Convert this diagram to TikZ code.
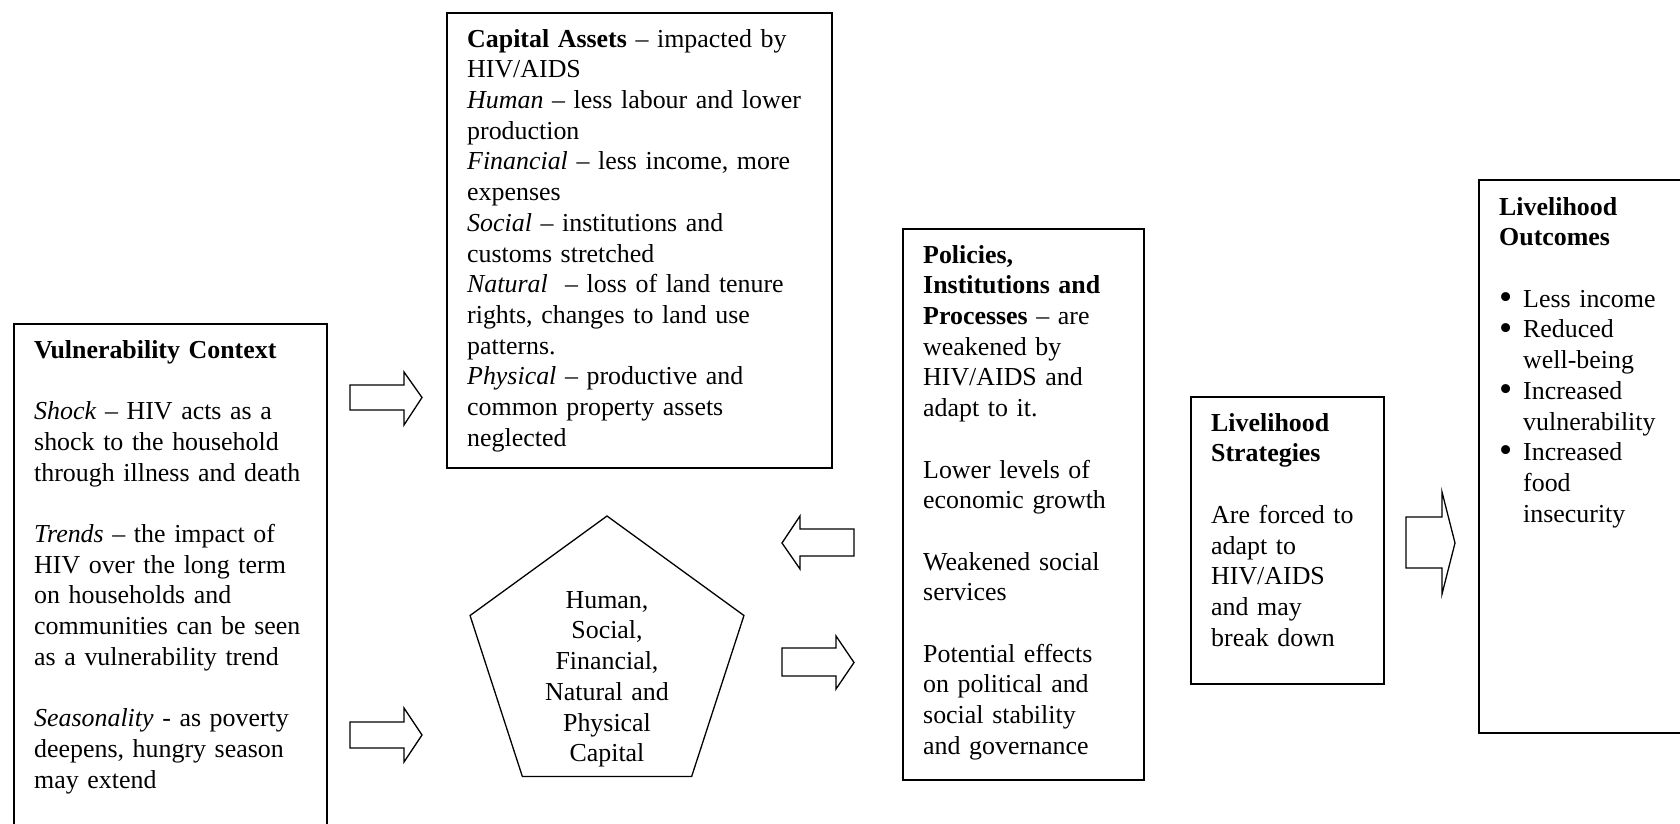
\documentclass[tikz,border=0pt]{standalone}
\usepackage{fontspec}
\setmainfont{Liberation Serif}
\usetikzlibrary{shapes.geometric}
\tikzset{
  frame/.style={draw, line width=1.6pt, inner sep=0pt, anchor=north west},
  txt/.style={inner sep=0pt, anchor=north west, align=left, text width=#1,
              font=\fontsize{25.9}{30.7}\selectfont},
  blockarrow/.style={draw, line width=1.3pt, line join=miter},
}
\newcommand{\bul}{\makebox[24pt][l]{\raisebox{-2.2pt}{\scalebox{1.45}{\textbullet}}}}
\newcommand{\ind}{\hspace*{24pt}}
\begin{document}
\begin{tikzpicture}[x=1pt,y=-1pt]
\useasboundingbox (0,0) rectangle (1680,823);
\clip (0,0) rectangle (1680,823);

% Vulnerability Context
\node[frame, minimum width=313pt, minimum height=560pt] (vc) at (13,323) {};
\node[txt=300pt] (vct) at (34,336.5) {\strut\textbf{Vulnerability Context}\\[30.7pt]
\textit{Shock} – HIV acts as a\\
shock to the household\\
through illness and death\\[30.7pt]
\textit{Trends} – the impact of\\
HIV over the long term\\
on households and\\
communities can be seen\\
as a vulnerability trend\\[30.7pt]
\textit{Seasonality} - as poverty\\
deepens, hungry season\\
may extend};

% Capital Assets
\node[frame, minimum width=385pt, minimum height=455pt] (ca) at (446,12) {};
\node[txt=360pt] (cat) at (467,25.5) {\strut\textbf{Capital Assets} – impacted by\\
HIV/AIDS\\
\textit{Human} – less labour and lower\\
production\\
\textit{Financial} – less income, more\\
expenses\\
\textit{Social} – institutions and\\
customs stretched\\
\textit{Natural}\ \ – loss of land tenure\\
rights, changes to land use\\
patterns.\\
\textit{Physical} – productive and\\
common property assets\\
neglected};

% Pentagon
\node[draw, regular polygon, regular polygon sides=5, minimum size=288pt,
      inner sep=0pt, line width=1.3pt] (pent) at (607,660) {};
\node[txt=220pt, anchor=north, align=center] (pentt) at (607,586.5) {\strut Human,\\
Social,\\
Financial,\\
Natural and\\
Physical\\
Capital};

% Policies, Institutions and Processes
\node[frame, minimum width=241pt, minimum height=551pt] (pip) at (902,228) {};
\node[txt=215pt] (pipt) at (923,241.5) {\strut\textbf{Policies,}\\
\textbf{Institutions and}\\
\textbf{Processes} – are\\
weakened by\\
HIV/AIDS and\\
adapt to it.\\[30.7pt]
Lower levels of\\
economic growth\\[30.7pt]
Weakened social\\
services\\[30.7pt]
Potential effects\\
on political and\\
social stability\\
and governance};

% Livelihood Strategies
\node[frame, minimum width=193pt, minimum height=287pt] (ls) at (1190,396) {};
\node[txt=170pt] (lst) at (1211,409.5) {\strut\textbf{Livelihood}\\
\textbf{Strategies}\\[30.7pt]
Are forced to\\
adapt to\\
HIV/AIDS\\
and may\\
break down};

% Livelihood Outcomes
\node[frame, minimum width=300pt, minimum height=553pt] (lo) at (1478,179) {};
\node[txt=250pt] (lot) at (1499,193.5) {\strut\textbf{Livelihood}\\
\textbf{Outcomes}\\[30.7pt]
\bul Less income\\
\bul Reduced\\
\ind well-being\\
\bul Increased\\
\ind vulnerability\\
\bul Increased\\
\ind food\\
\ind insecurity};

% Block arrows
\draw[blockarrow] (350,385) -- (404,385) -- (404,372) -- (422,397.5) -- (404,425) -- (404,410) -- (350,410) -- cycle;
\draw[blockarrow] (350,722) -- (404,722) -- (404,708) -- (422,735) -- (404,762) -- (404,748) -- (350,748) -- cycle;
\draw[blockarrow] (854,529) -- (800,529) -- (800,516) -- (782,543) -- (800,569) -- (800,556) -- (854,556) -- cycle;
\draw[blockarrow] (782,648) -- (836,648) -- (836,636) -- (854,662.5) -- (836,689) -- (836,676) -- (782,676) -- cycle;
\draw[blockarrow] (1406,517) -- (1442,517) -- (1442,492) -- (1455,543) -- (1442,594) -- (1442,568) -- (1406,568) -- cycle;
\end{tikzpicture}
\end{document}
